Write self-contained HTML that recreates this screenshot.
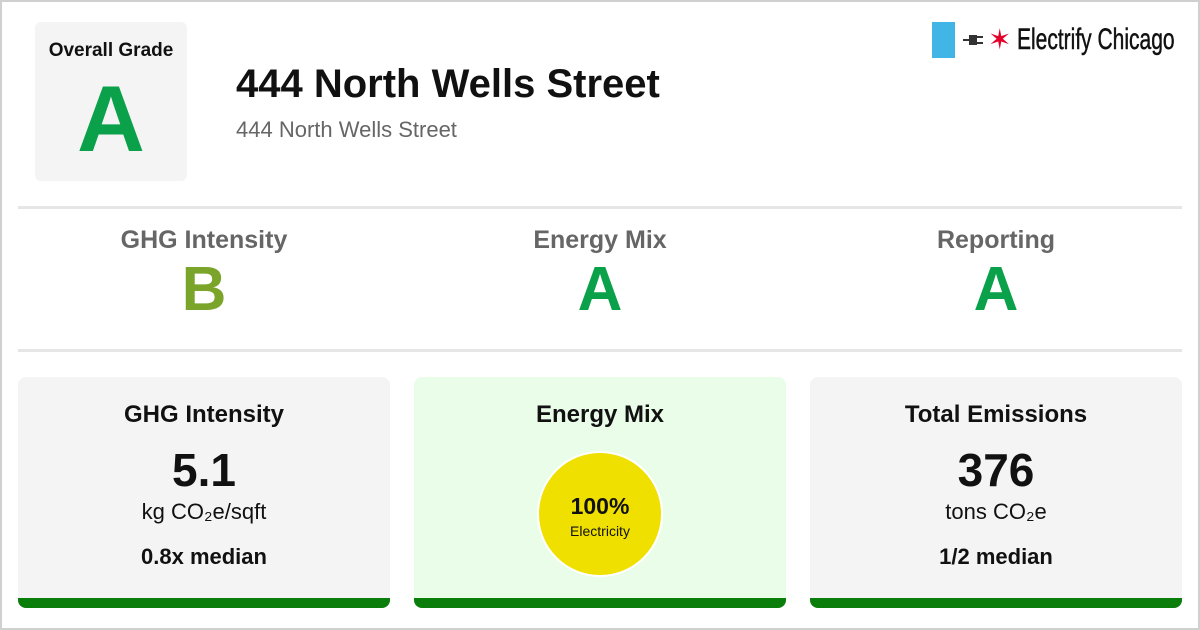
<!DOCTYPE html>
<html><head><meta charset="utf-8"><style>
*{margin:0;padding:0;box-sizing:border-box}
body{width:1200px;height:630px;background:#fff;font-family:"Liberation Sans",Arial,sans-serif;position:relative;overflow:hidden}
.frame{position:absolute;left:0;top:0;width:1200px;height:630px;border:2px solid #d0d0d0}
.abs{position:absolute}
.c{text-align:center}
.hr{position:absolute;left:18px;width:1164px;height:3px;background:#e6e6e6}
.card{position:absolute;top:377px;width:372px;height:231px;border-radius:8px;background:#f4f4f4;overflow:hidden}
.card .bar{position:absolute;left:0;bottom:0;width:100%;height:10px;background:#0a7d0a}
.ct{position:absolute;left:0;width:100%;text-align:center;color:#111}
</style></head><body>
<div class="frame"></div>
<div class="abs" style="left:35px;top:22px;width:152px;height:159px;background:#f4f4f4;border-radius:6px">
  <div class="abs c" style="left:0;top:18px;width:100%;font-size:19px;font-weight:bold;color:#111">Overall Grade</div>
  <div class="abs c" style="left:0;top:47px;width:100%;font-size:94px;font-weight:bold;color:#0aa14a;line-height:100px">A</div>
</div>
<div class="abs" style="left:236px;top:62px;font-size:40px;font-weight:bold;color:#111;white-space:nowrap">444 North Wells Street</div>
<div class="abs" style="left:236px;top:117px;font-size:22px;color:#666;white-space:nowrap">444 North Wells Street</div>
<div class="abs" style="left:932px;top:22px;width:260px;height:36px">
  <div class="abs" style="left:0;top:0;width:23px;height:36px;background:#41b6e6"></div>
  <svg class="abs" style="left:31px;top:10px" width="24" height="16" viewBox="0 0 24 16">
    <rect x="0" y="7" width="6" height="2" fill="#333"/>
    <path d="M6 3 L14 3 L14 13 L6 13 Z" fill="#333"/>
    <rect x="14" y="4" width="6" height="2" fill="#333"/>
    <rect x="14" y="10" width="6" height="2" fill="#333"/>
  </svg>
  <div class="abs" style="left:56px;top:0px;font-size:28px;color:#e4002b;line-height:36px">&#x2736;</div>
  <div class="abs" style="left:85px;top:0;font-size:30px;line-height:36px;color:#111;white-space:nowrap;transform:scaleX(0.70);transform-origin:left;-webkit-text-stroke:0.5px #111">Electrify Chicago</div>
</div>
<div class="hr" style="top:206px"></div>
<div class="hr" style="top:349px"></div>
<div class="abs c" style="left:18px;top:226px;width:372px">
  <div style="font-size:25px;font-weight:bold;color:#666">GHG Intensity</div>
  <div style="font-size:62px;font-weight:bold;color:#7aa52a;line-height:70px">B</div>
</div>
<div class="abs c" style="left:414px;top:226px;width:372px">
  <div style="font-size:25px;font-weight:bold;color:#666">Energy Mix</div>
  <div style="font-size:62px;font-weight:bold;color:#0aa14a;line-height:70px">A</div>
</div>
<div class="abs c" style="left:810px;top:226px;width:372px">
  <div style="font-size:25px;font-weight:bold;color:#666">Reporting</div>
  <div style="font-size:62px;font-weight:bold;color:#0aa14a;line-height:70px">A</div>
</div>
<div class="card" style="left:18px">
  <div class="ct" style="top:24px;font-size:24px;font-weight:bold">GHG Intensity</div>
  <div class="ct" style="top:66px;font-size:46px;font-weight:bold">5.1</div>
  <div class="ct" style="top:122px;font-size:22px">kg CO₂e/sqft</div>
  <div class="ct" style="top:167px;font-size:22px;font-weight:bold">0.8x median</div>
  <div class="bar"></div>
</div>
<div class="card" style="left:414px;background:#e9fde9">
  <div class="ct" style="top:24px;font-size:24px;font-weight:bold">Energy Mix</div>
  <div class="abs" style="left:123px;top:74px;width:126px;height:126px;border-radius:50%;background:#efe000;border:2px solid #fff">
    <div class="ct" style="top:40px;font-size:23px;font-weight:bold">100%</div>
    <div class="ct" style="top:70px;font-size:14px">Electricity</div>
  </div>
  <div class="bar"></div>
</div>
<div class="card" style="left:810px">
  <div class="ct" style="top:24px;font-size:24px;font-weight:bold">Total Emissions</div>
  <div class="ct" style="top:66px;font-size:46px;font-weight:bold">376</div>
  <div class="ct" style="top:122px;font-size:22px">tons CO₂e</div>
  <div class="ct" style="top:167px;font-size:22px;font-weight:bold">1/2 median</div>
  <div class="bar"></div>
</div>
</body></html>
